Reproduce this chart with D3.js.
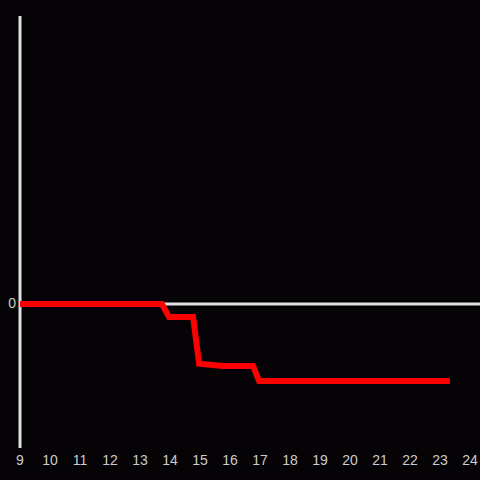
<!DOCTYPE html>
<html>
<head>
<meta charset="utf-8">
<script src="https://cdn.jsdelivr.net/npm/d3@7"></script>
<style>
  html, body { margin: 0; padding: 0; background: #050306; }
</style>
</head>
<body>
<div id="chart"></div>
<script>
// values
const hours = [9, 13.73, 13.97, 14.77, 14.97, 15.77, 16.77, 16.97, 23.33];
const level = [0, 0, -9, -9, -41.5, -43, -43, -53.5, -53.5];
const xTicks = [9, 10, 11, 12, 13, 14, 15, 16, 17, 18, 19, 20, 21, 22, 23, 24];
const yTicks = [0];

const width = 480;
const height = 480;

const svg = d3.select('#chart')
    .append('svg')
    .attr('width', width)
    .attr('height', height)
    .style('display', 'block')
    .style('background', '#050306');

const x = d3.scaleLinear().domain([9, 9 + 460 / 30]).range([20, 480]);
const y = d3.scaleLinear().domain([-100, 200]).range([448, 16]);

// y axis line
svg.append('line')
    .attr('x1', x(9)).attr('x2', x(9))
    .attr('y1', y(200)).attr('y2', y(-100))
    .attr('stroke', '#e0e0e0')
    .attr('stroke-width', 3);

// zero line
svg.append('line')
    .attr('x1', x(9)).attr('x2', width)
    .attr('y1', y(0)).attr('y2', y(0))
    .attr('stroke', '#e0e0e0')
    .attr('stroke-width', 3);

// x tick labels
svg.selectAll('.xlab')
    .data(xTicks)
    .enter()
    .append('text')
    .attr('class', 'xlab')
    .attr('x', d => x(d))
    .attr('y', 461)
    .attr('text-anchor', 'middle')
    .attr('dominant-baseline', 'middle')
    .attr('font-family', 'Liberation Sans, Arial, sans-serif')
    .attr('font-size', 14)
    .attr('fill', '#cccccc')
    .text(d => d);

// y tick labels
svg.selectAll('.ylab')
    .data(yTicks)
    .enter()
    .append('text')
    .attr('class', 'ylab')
    .attr('x', 16)
    .attr('y', d => y(d))
    .attr('text-anchor', 'end')
    .attr('dominant-baseline', 'middle')
    .attr('font-family', 'Liberation Sans, Arial, sans-serif')
    .attr('font-size', 14)
    .attr('fill', '#cccccc')
    .text(d => d);

const line = d3.line()
    .x((d, i) => x(hours[i]))
    .y(d => y(d));

svg.append('path')
    .datum(level)
    .attr('d', line)
    .attr('fill', 'none')
    .attr('stroke', '#ff0000')
    .attr('stroke-width', 6)
    .attr('stroke-linejoin', 'miter');
</script>
</body>
</html>
